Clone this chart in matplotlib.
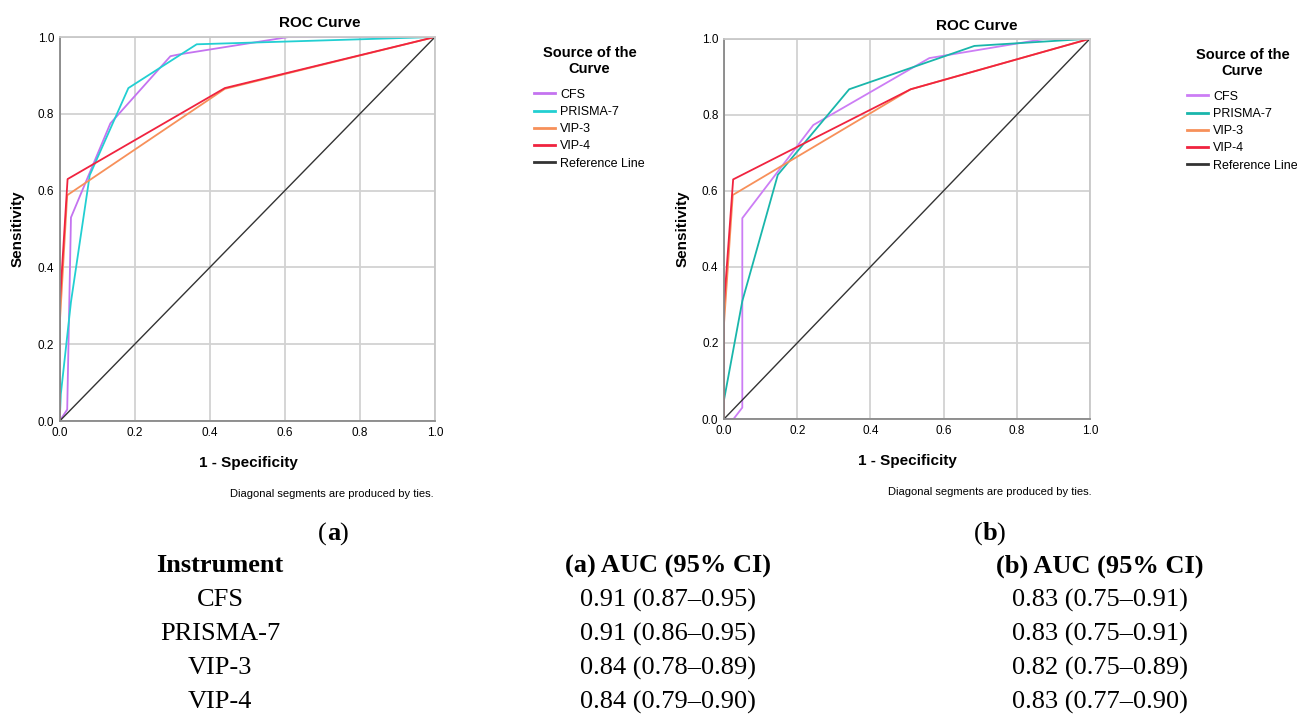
import numpy as np
import matplotlib.pyplot as plt

# ROC points, (a) left panel
a_cfs_x = [0, 0.02, 0.03, 0.135, 0.295, 0.32, 0.61, 1.0]
a_cfs_y = [0, 0.03, 0.53, 0.775, 0.95, 0.955, 1.0, 1.0]
a_prisma_x = [0, 0.003, 0.03, 0.08, 0.183, 0.365, 1.0]
a_prisma_y = [0, 0.07, 0.31, 0.64, 0.867, 0.981, 1.0]
a_vip3_x = [0, 0.0, 0.02, 0.44, 1.0]
a_vip3_y = [0, 0.25, 0.588, 0.865, 1.0]
a_vip4_x = [0, 0.0, 0.021, 0.44, 1.0]
a_vip4_y = [0, 0.3, 0.63, 0.867, 1.0]

# (b) right panel
b_cfs_x = [0, 0.026, 0.05, 0.05, 0.244, 0.561, 0.88, 1.0]
b_cfs_y = [0, 0.0, 0.03, 0.528, 0.773, 0.949, 1.0, 1.0]
b_prisma_x = [0, 0.0, 0.05, 0.147, 0.342, 0.684, 1.0]
b_prisma_y = [0, 0.05, 0.31, 0.642, 0.867, 0.981, 1.0]
b_vip3_x = [0, 0.0, 0.024, 0.51, 1.0]
b_vip3_y = [0, 0.25, 0.589, 0.867, 1.0]
b_vip4_x = [0, 0.0, 0.025, 0.51, 1.0]
b_vip4_y = [0, 0.3, 0.63, 0.867, 1.0]

ref_x = [0, 1]
ref_y = [0, 1]

labels = ['CFS', 'PRISMA-7', 'VIP-3', 'VIP-4', 'Reference Line']
ticks = [0.0, 0.2, 0.4, 0.6, 0.8, 1.0]

instruments = ['CFS', 'PRISMA-7', 'VIP-3', 'VIP-4']
auc_a = ['0.91 (0.87\u20130.95)', '0.91 (0.86\u20130.95)', '0.84 (0.78\u20130.89)', '0.84 (0.79\u20130.90)']
auc_b = ['0.83 (0.75\u20130.91)', '0.83 (0.75\u20130.91)', '0.82 (0.75\u20130.89)', '0.83 (0.77\u20130.90)']

W, H = 1297, 714
plt.rcParams['font.family'] = ['Liberation Sans', 'DejaVu Sans']
fig = plt.figure(figsize=(W/100, H/100), dpi=100)

def fx(x):
    return x/W
def fy(y):
    return 1 - y/H

def roc_panel(rect, curves, cols, title_x, ylab_x, xlab_x, note_x, leg_x, leg_y, top):
    ax = fig.add_axes([fx(rect[0]), fy(rect[3]), (rect[2]-rect[0])/W, (rect[3]-rect[1])/H])
    for (xs, ys), c, lab in zip(curves, cols, labels[:4]):
        ax.plot(xs, ys, color=c, lw=1.3, label=lab)
    ax.plot(ref_x, ref_y, color='#333333', lw=1.0, label='Reference Line')
    ax.set_xlim(0, 1)
    ax.set_ylim(0, 1)
    ax.set_xticks(ticks)
    ax.set_yticks(ticks)
    ax.set_xticklabels(['%.1f' % t for t in ticks])
    ax.set_yticklabels(['%.1f' % t for t in ticks])
    ax.tick_params(length=0, labelsize=8.5, pad=4)
    ax.grid(color='#d2d2d2', lw=1.3)
    ax.set_axisbelow(True)
    for s in ax.spines.values():
        s.set_color('#c8c8c8')
        s.set_linewidth(1.3)
    ax.spines['left'].set_color('#888888')
    ax.spines['bottom'].set_color('#888888')
    fig.text(fx(title_x), fy(top - 14), 'ROC Curve', ha='center', va='center', fontsize=11, fontweight='bold')
    fig.text(fx(ylab_x), fy((rect[1]+rect[3])/2), 'Sensitivity', rotation=90, ha='center', va='center',
             fontsize=11, fontweight='bold')
    fig.text(fx(xlab_x), fy(rect[3] + 42), '1 - Specificity', ha='center', va='center', fontsize=11, fontweight='bold')
    fig.text(fx(note_x), fy(rect[3] + 73), 'Diagonal segments are produced by ties.', ha='right', va='center', fontsize=8)
    leg = ax.legend(loc='upper left', bbox_to_anchor=(fx(leg_x), fy(leg_y)), bbox_transform=fig.transFigure,
                    frameon=False, fontsize=9, handlelength=1.7, handletextpad=0.4, labelspacing=0.42,
                    title='Source of the\nCurve', title_fontproperties={'weight': 'bold', 'size': 10.5},
                    borderaxespad=0, borderpad=0, alignment='center')
    leg.get_title().set_multialignment('center')
    leg._legend_box.sep = 9
    for h in leg.get_lines():
        h.set_linewidth(2.0)
    return ax

cols_a = ['#c473f0', '#22cfd2', '#f7905a', '#f0233f']
cols_b = ['#cc7df5', '#19b6ab', '#f7905a', '#f0233f']

roc_panel((59.7, 37, 435, 421),
          [(a_cfs_x, a_cfs_y), (a_prisma_x, a_prisma_y), (a_vip3_x, a_vip3_y), (a_vip4_x, a_vip4_y)],
          cols_a, 320, 18, 248, 434, 534, 46, 37)
roc_panel((724, 38.7, 1090, 419),
          [(b_cfs_x, b_cfs_y), (b_prisma_x, b_prisma_y), (b_vip3_x, b_vip3_y), (b_vip4_x, b_vip4_y)],
          cols_b, 977, 683, 907, 1092, 1187, 48, 40)

serif = ['Liberation Serif', 'DejaVu Serif']
fs = 19
renderer = fig.canvas.get_renderer()
for cx, letter in [(327, 'a'), (983, 'b')]:
    fig.text(fx(cx), fy(534), '(', ha='right', va='center', fontsize=fs, family=serif)
    t = fig.text(fx(cx), fy(534), letter, ha='left', va='center', fontsize=fs, family=serif, fontweight='bold')
    bb = t.get_window_extent(renderer)
    fig.text((bb.x1 - 1.5)/W, fy(534), ')', ha='left', va='center', fontsize=fs, family=serif)

fig.text(fx(220), fy(566), 'Instrument', ha='center', va='center', fontsize=fs, family=serif, fontweight='bold')
fig.text(fx(668), fy(566), '(a) AUC (95% CI)', ha='center', va='center', fontsize=fs, family=serif, fontweight='bold')
fig.text(fx(1100), fy(566), '(b) AUC (95% CI)', ha='center', va='center', fontsize=fs, family=serif, fontweight='bold')
for i in range(len(instruments)):
    y = 600 + 34*i
    fig.text(fx(220), fy(y), instruments[i], ha='center', va='center', fontsize=fs, family=serif)
    fig.text(fx(668), fy(y), auc_a[i], ha='center', va='center', fontsize=fs, family=serif)
    fig.text(fx(1100), fy(y), auc_b[i], ha='center', va='center', fontsize=fs, family=serif)

fig.savefig('out.png', dpi=100)
